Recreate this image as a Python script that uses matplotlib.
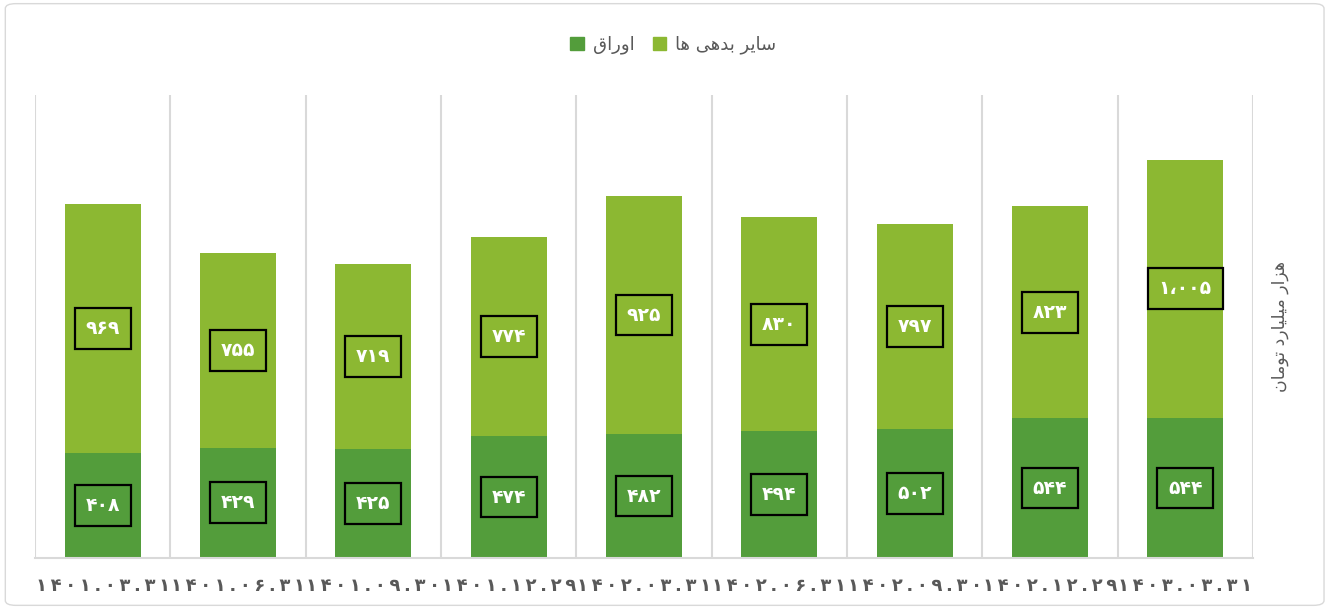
import matplotlib.pyplot as plt
from matplotlib.patches import Patch, FancyBboxPatch
import numpy as np

plt.rcParams['font.family'] = ['DejaVu Sans']

dates = ['1401.03.31', '1401.06.31', '1401.09.30', '1401.12.29', '1402.03.31',
         '1402.06.31', '1402.09.30', '1402.12.29', '1403.03.31']
awragh = [408, 429, 425, 474, 482, 494, 502, 544, 544]
sayer = [969, 755, 719, 774, 925, 830, 797, 823, 1005]

# labels already in visual (left-to-right) order with presentation forms
lbl_awragh = '\uFED5\uFE8D\uFEAD\uFEED\uFE8D'
lbl_sayer = '\uFE8E\uFEEB \uFEF0\uFEEB\uFEAA\uFE91 \uFEAE\uFEF3\uFE8E\uFEB3'
lbl_unit = '\uFEE5\uFE8E\uFEE3\uFEEE\uFE97 \uFEA9\uFEAD\uFE8E\uFEF4\uFEE0\uFEF4\uFEE3 \uFEAD\uFE8D\uFEB0\uFEEB'

c_dark = '#539D3B'
c_light = '#8CB832'
grey = '#595959'

fa = str.maketrans('0123456789', '۰۱۲۳۴۵۶۷۸۹')

def fa_num(v):
    s = '{:,}'.format(v).replace(',', '\u060C')
    return s.translate(fa)

def spaced(s):
    return '\u2009'.join(s.translate(fa))

fig = plt.figure(figsize=(13.28, 6.09), dpi=100)
fig.patches.append(FancyBboxPatch((0.004, 0.006), 0.993, 0.988, boxstyle='round,pad=0,rounding_size=0.008',
                                  transform=fig.transFigure, fc='white', ec='#D9D9D9', lw=1, zorder=-10))
ax = fig.add_axes([35 / 1328, 51 / 609, 1218 / 1328, 463 / 609])
ax.patch.set_alpha(0)

x = np.arange(len(dates))
w = 0.56
ax.bar(x, awragh, w, color=c_dark, zorder=2)
ax.bar(x, sayer, w, bottom=awragh, color=c_light, zorder=2)

for i in range(len(x)):
    ax.text(x[i], awragh[i] / 2, fa_num(awragh[i]), ha='center', va='center', color='white',
            fontsize=13.5, fontweight='bold', zorder=3,
            bbox=dict(boxstyle='square,pad=0.58', fc=c_dark, ec='black', lw=1.6))
    ax.text(x[i], awragh[i] + sayer[i] / 2, fa_num(sayer[i]), ha='center', va='center', color='white',
            fontsize=13.5, fontweight='bold', zorder=3,
            bbox=dict(boxstyle='square,pad=0.58', fc=c_light, ec='black', lw=1.6))

ax.set_xlim(-0.5, len(dates) - 0.5)
ax.set_ylim(0, 1800)
for b in np.arange(-0.5, len(dates), 1):
    ax.axvline(b, color='#D9D9D9', lw=1.5, zorder=1)
for s in ['top', 'left', 'right']:
    ax.spines[s].set_visible(False)
ax.spines['bottom'].set_color('#D9D9D9')
ax.spines['bottom'].set_linewidth(1.5)
ax.set_yticks([])
ax.set_xticks(x)
ax.set_xticklabels([spaced(d) for d in dates], fontsize=13, fontweight='bold', color=grey)
ax.tick_params(axis='x', length=0, pad=14)

ax.yaxis.set_label_position('right')
ax.set_ylabel(lbl_unit, fontsize=12.5, color=grey, rotation=90, labelpad=13)

handles = [Patch(color=c_dark), Patch(color=c_light)]
fig.legend(handles, [lbl_awragh, lbl_sayer], loc='center', bbox_to_anchor=(0.507, 1 - 45 / 609), ncol=2,
           frameon=False, fontsize=13, labelcolor=grey, handlelength=0.75, handleheight=0.75,
           handletextpad=0.5, columnspacing=1.0)

fig.savefig('out.png', dpi=100)
